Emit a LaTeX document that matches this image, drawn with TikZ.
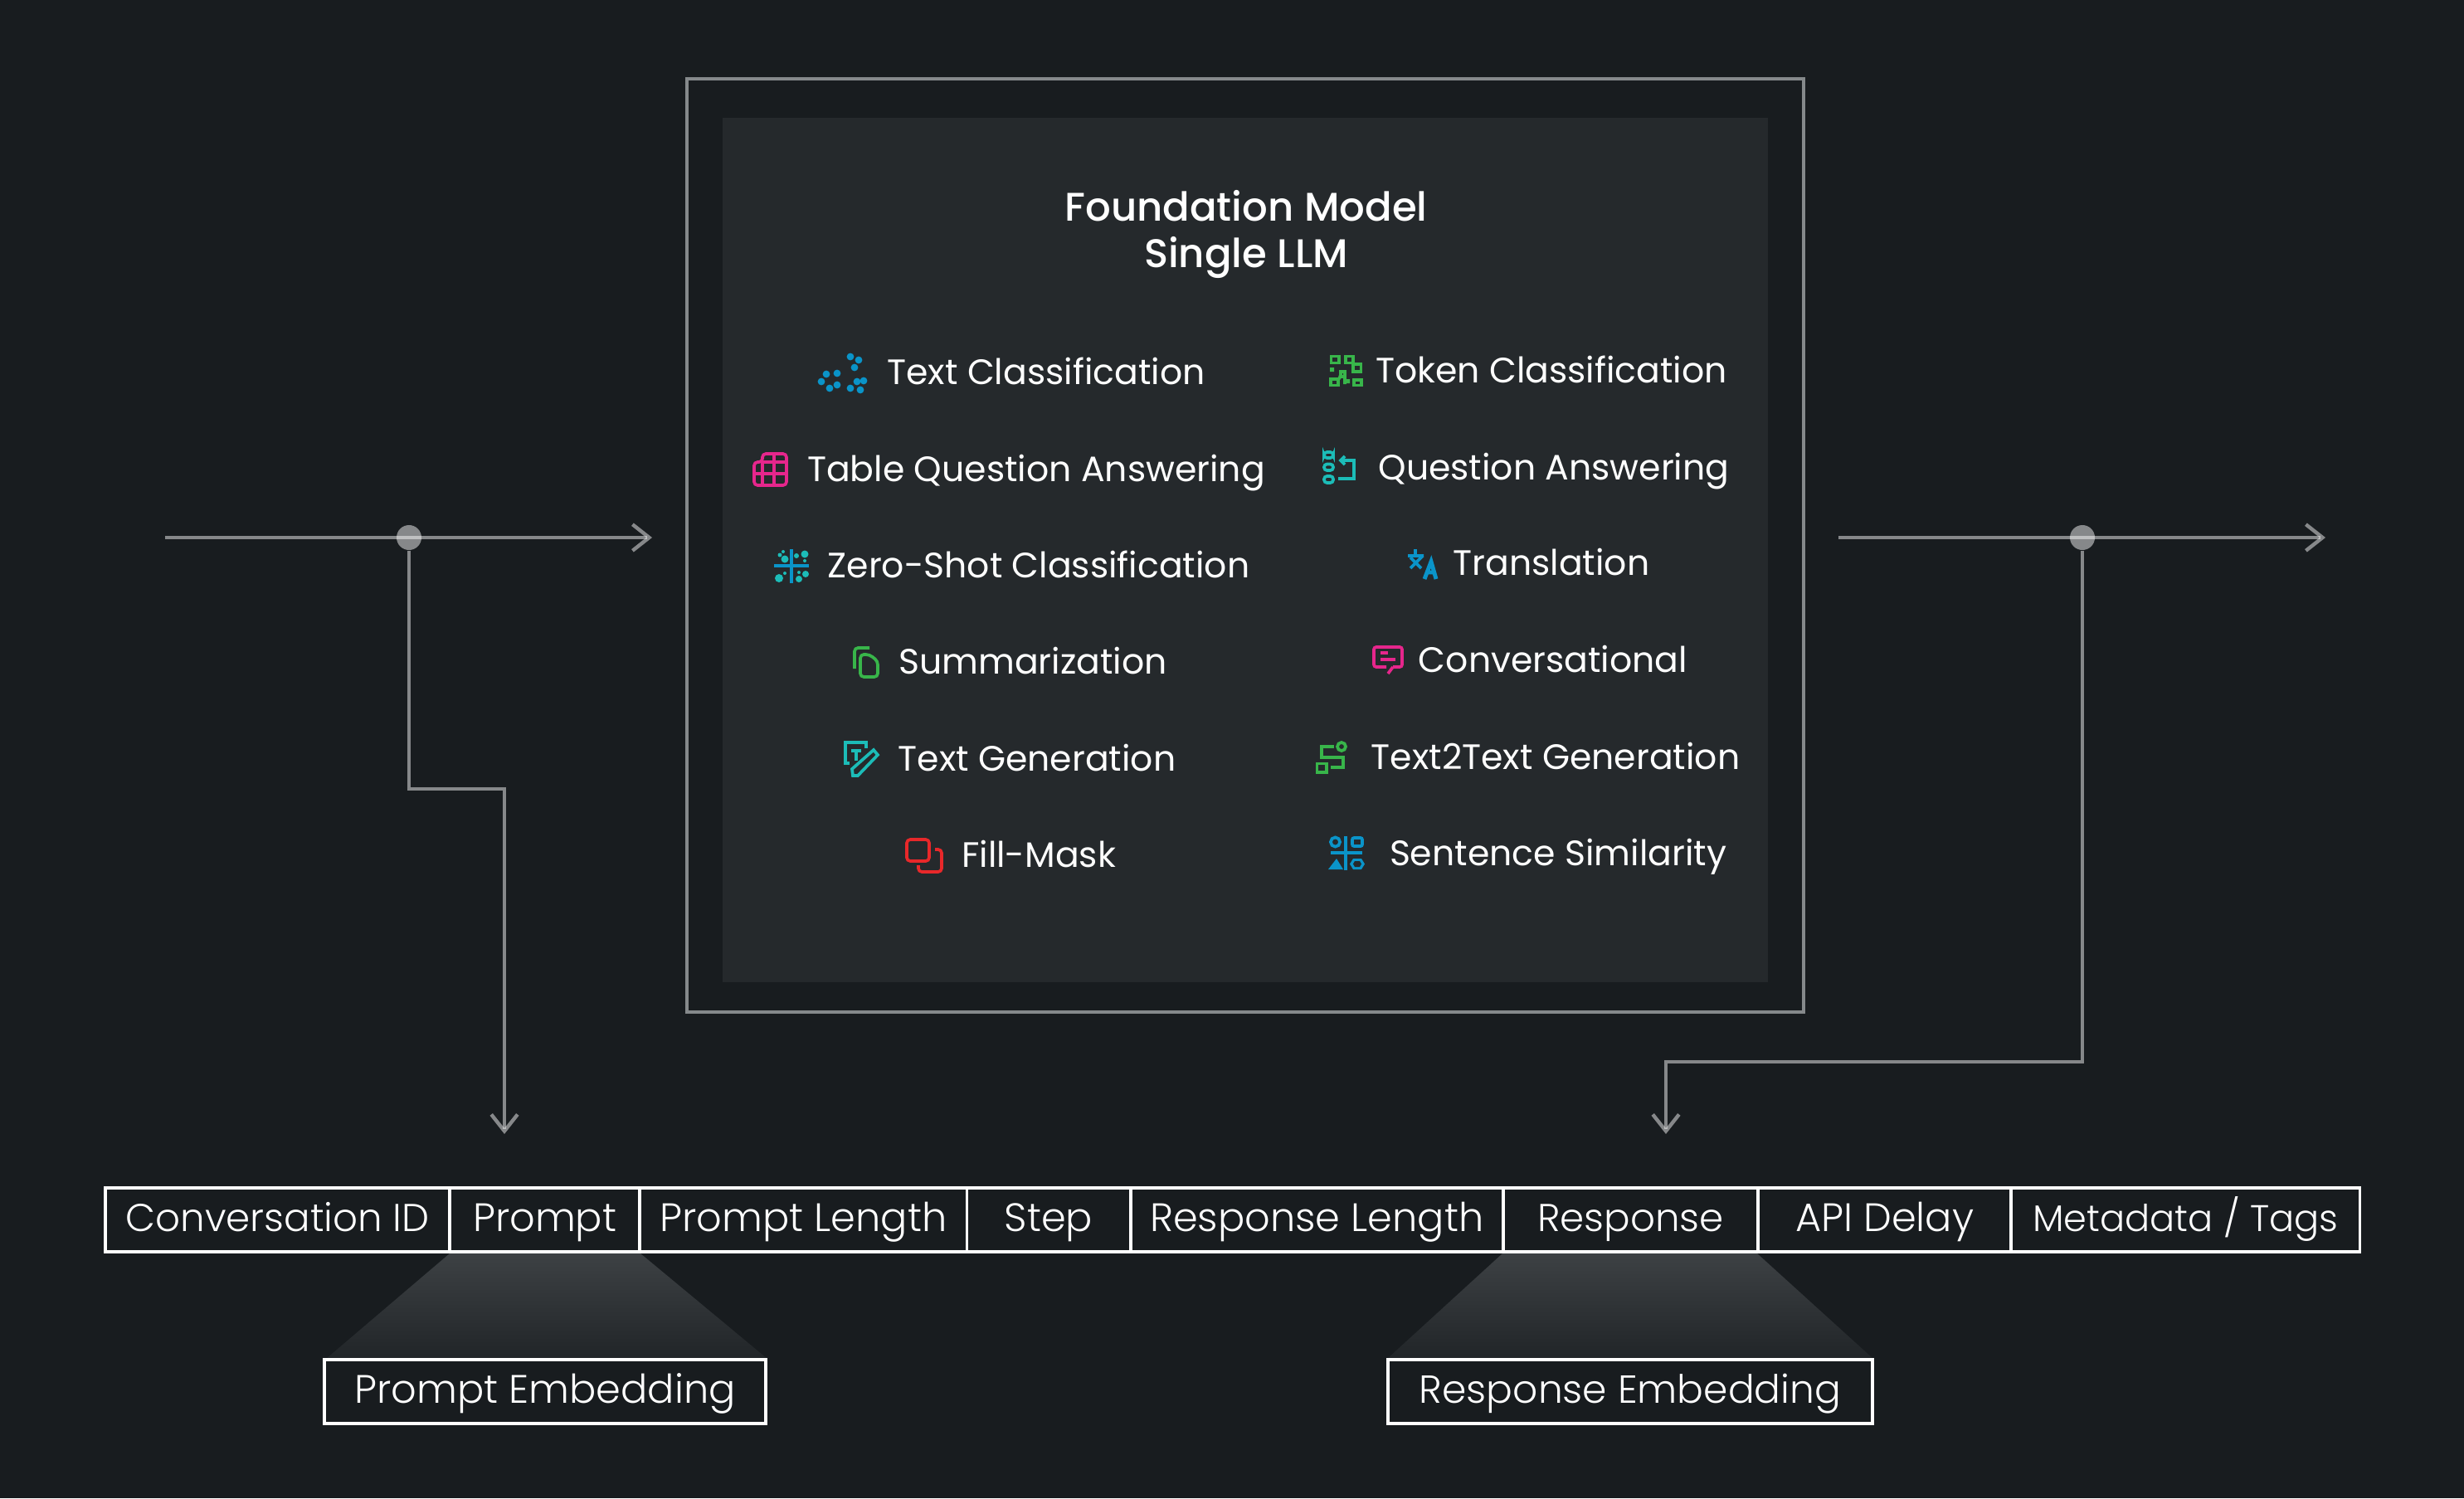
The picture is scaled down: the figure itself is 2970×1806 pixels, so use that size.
\documentclass[tikz,border=0pt]{standalone}
\usepackage{fontspec}
\setmainfont{Poppins}
\newfontfamily\cellfont{Poppins Light}
\newfontfamily\titlefont{Poppins Medium}
\usepackage{xcolor}
\usepackage{tikz}
\usetikzlibrary{positioning,arrows.meta}
\definecolor{pagedark}{HTML}{181C1F}
\definecolor{paneldark}{HTML}{25292C}
\definecolor{wiregrey}{HTML}{85898B}
\definecolor{fanlight}{HTML}{3D4144}
\definecolor{fandark}{HTML}{212528}
\definecolor{iconblue}{HTML}{0A94C9}
\definecolor{iconpink}{HTML}{E6268C}
\definecolor{iconteal}{HTML}{1CBCB8}
\definecolor{icongreen}{HTML}{38B54A}
\definecolor{iconred}{HTML}{E8282A}

\begin{document}
\begin{tikzpicture}[x=0.01cm, y=-0.01cm, node distance=0cm, every node/.style={font=\fontsize{12.1}{15}\selectfont, text=white}]
  \tikzstyle{cell}=[rectangle, draw=white, line width=1.1pt, outer sep=0pt, inner sep=0pt, minimum height=0.77cm, text height=0.34cm, text depth=0.06cm, align=center, font=\fontsize{13.6}{15}\selectfont\cellfont]
  \tikzstyle{wire}=[draw=white, draw opacity=0.48, line width=1.25pt, -{Straight Barb[length=5.7pt, width=9pt]}]
  \tikzstyle{junction}=[circle, fill=white, fill opacity=0.48, minimum size=0.3cm, inner sep=0pt]
  \tikzstyle{task}=[anchor=base, inner sep=0pt]
  \tikzstyle{ic}=[line width=1.05pt, line join=miter]
  \useasboundingbox (0,0) rectangle (2970,1806);
  \fill[pagedark] (0,0) rectangle (2970,1806);

  % model panel
  \node[rectangle, draw=wiregrey, line width=1.15pt, minimum width=13.46cm, minimum height=11.25cm, outer sep=0pt] (frame) at (1501,657.5) {};
  \node[rectangle, fill=paneldark, minimum width=12.6cm, minimum height=10.42cm, outer sep=0pt] (panel) at (1501,663) {};
  \node[task, font=\fontsize{13.7}{15}\selectfont\titlefont] (title1) at (1502,267) {Foundation Model};
  \node[task, font=\fontsize{13.7}{15}\selectfont\titlefont] (title2) at (1502,322) {Single LLM};

  % task names
  \node[task] (tc) at (1261,463.5) {Text Classification};
  \node[task] (tqa) at (1249,580.5) {Table Question Answering};
  \node[task] (zsc) at (1252,696.5) {Zero-Shot Classification};
  \node[task] (summ) at (1245,812.5) {Summarization};
  \node[task] (tgen) at (1250,929.5) {Text Generation};
  \node[task] (fill) at (1252,1045.5) {Fill-Mask};
  \node[task] (tok) at (1870,461.5) {Token Classification};
  \node[task] (qa) at (1873,578.5) {Question Answering};
  \node[task] (trans) at (1870,693.5) {Translation};
  \node[task] (conv) at (1872,810.5) {Conversational};
  \node[task] (t2t) at (1875,927.5) {Text2Text Generation};
  \node[task] (sim) at (1878,1043.5) {Sentence Similarity};

  % icons, left column
  \begin{scope}[shift={(986,426)}]
    \foreach \px/\py in {39/4,49/8,44/17,10/25,23/24,4/34,23/38,14/42,39/42,47/34,55/33,51/44}
      \fill[iconblue] (\px,\py) circle[radius=4.4];
  \end{scope}
  \begin{scope}[shift={(907,545)}, ic, draw=iconpink]
    \draw[rounded corners=1.2pt] (2,12) -- (12,12) -- (12,2) -- (41,2) -- (41,40) -- (2,40) -- cycle;
    \draw (2,26) -- (41,26) (12,12) -- (41,12) (12,12) -- (12,40) (26,2) -- (26,40);
  \end{scope}
  \begin{scope}[shift={(933,662)}]
    \draw[iconblue, ic] (21,0) -- (21,41) (0,20) -- (42,20);
    \foreach \px/\py/\pr in {7/7/2.5,13/12/4.5,11/3/2,27/8/3,37/6/4.5,37/14/2,6/35/5,13/29/2,30/36/4,38/30/4,30/28/2}
      \fill[iconteal] (\px,\py) circle[radius=\pr];
  \end{scope}
  \begin{scope}[shift={(1028,779)}, ic, draw=icongreen]
    \draw[rounded corners=1.2pt] (20,2) -- (2,2) -- (2,27);
    \draw[rounded corners=1.2pt] (9,10) -- (20,10) -- (30,18) -- (30,37) -- (9,37) -- cycle;
  \end{scope}
  \begin{scope}[shift={(1017,893)}, ic, draw=iconteal]
    \draw (7,27) -- (2,27) -- (2,2) -- (27,2) -- (27,9);
    \draw (9,12) -- (21,12) (15,12) -- (15,24);
    \draw (11,42) -- (10,34) -- (36,11) -- (41,17) -- (17,42) -- cycle;
  \end{scope}
  \begin{scope}[shift={(1091,1010)}, ic, draw=iconred]
    \draw[rounded corners=1.2pt] (2,2) rectangle (29,28);
    \draw[rounded corners=1.2pt] (36,14) -- (44,14) -- (44,41) -- (16,41) -- (16,33);
  \end{scope}

  % icons, right column
  \begin{scope}[shift={(1602,427)}, ic, draw=icongreen]
    \draw (2.5,2.5) rectangle (12,10.5) (20,2.5) rectangle (29,10.5) (29,12) rectangle (38.5,21)
      (2,30) rectangle (11,37.5) (30,31) rectangle (39,37.5) (14,21) rectangle (19,27);
    \draw (12,30) -- (14,25) (19,27) -- (19,36);
    \fill[icongreen] (1,16) rectangle (6,21) (20,30) rectangle (25,35);
  \end{scope}
  \begin{scope}[shift={(1594,543)}, ic, draw=iconteal]
    \draw[rounded corners=1pt] (2,2) rectangle (13,9) (2,16.5) rectangle (13,24) (2,31) rectangle (13,39);
    \draw (19,34) -- (38,34) -- (38,12) -- (22,12);
    \draw (27,7) -- (22,12) -- (27,17);
  \end{scope}
  \begin{scope}[shift={(1697,662)}, ic, draw=iconblue]
    \draw (0,8) -- (19,8) (9,0) -- (9,8) (18,8) -- (3,23) (3,10) -- (16,23);
    \draw[line width=1.4pt] (20,36) -- (28,15) -- (34,36) (23,28) -- (32,28);
  \end{scope}
  \begin{scope}[shift={(1654,778)}, ic, draw=iconpink]
    \draw[rounded corners=0.8pt] (17,26) -- (2,26) -- (2,2) -- (36,2) -- (36,26) -- (25,26);
    \draw (25,26) -- (19,34);
    \draw (10,9) -- (19,9) (10,17) -- (28,17);
  \end{scope}
  \begin{scope}[shift={(1585,893)}, ic, draw=icongreen]
    \draw (23,7) -- (8,7) -- (8,20) -- (34,20) -- (34,32) -- (19,32);
    \draw (2.5,27.5) rectangle (14,38);
    \draw (32,7) circle[radius=5];
  \end{scope}
  \begin{scope}[shift={(1601,1008)}, ic, draw=iconblue]
    \draw (8.5,7) circle[radius=5.6];
    \draw[rounded corners=0.6pt] (29,2) rectangle (41,12);
    \draw (3,20) -- (41,20) (21,0) -- (21,41);
    \fill[iconblue] (0,40) -- (10,27) -- (18,40) -- cycle;
    \fill[iconblue] (26,33.5) -- (30,27) -- (40,27) -- (44,33.5) -- (40,40) -- (30,40) -- cycle;
    \fill[paneldark] (30,33.5) -- (32,30) -- (38,30) -- (40,33.5) -- (38,37) -- (32,37) -- cycle;
  \end{scope}

  % record
  \path[top color=fanlight, bottom color=fandark] (542,1511) -- (772,1511) -- (925,1638) -- (393,1638) -- cycle;
  \path[top color=fanlight, bottom color=fandark] (1811,1511) -- (2118,1511) -- (2258,1638) -- (1672,1638) -- cycle;
  \node[cell, minimum width=4.15cm, font=\fontsize{13.3}{15}\selectfont\cellfont] (cid) at (334.5,1470.5) {Conversation ID};
  \node[cell, minimum width=2.29cm, right=of cid] (prompt) {Prompt};
  \node[cell, minimum width=3.94cm, right=of prompt] (plen) {Prompt Length};
  \node[cell, minimum width=1.97cm, right=of plen] (stepcell) {Step};
  \node[cell, minimum width=4.49cm, right=of stepcell] (rlen) {Response Length};
  \node[cell, minimum width=3.07cm, right=of rlen, font=\fontsize{13.3}{15}\selectfont\cellfont] (resp) {Response};
  \node[cell, minimum width=3.05cm, right=of resp] (delay) {API Delay};
  \node[cell, minimum width=4.20cm, right=of delay, font=\fontsize{12.7}{15}\selectfont\cellfont] (meta) {Metadata / Tags};
  \node[cell, minimum width=5.325cm] (pemb) at (657,1677.5) {Prompt Embedding};
  \node[cell, minimum width=5.84cm, font=\fontsize{13.4}{15}\selectfont\cellfont] (remb) at (1965,1677.5) {Response Embedding};

  % connectors
  \coordinate (inA) at (199,648);
  \coordinate (inB) at (786,648);
  \coordinate (outA) at (2216,648);
  \coordinate (outB) at (2803,648);
  \coordinate (pdrop) at (608,1367);
  \coordinate (rdrop) at (2008,1367);
  \node[junction] (jin) at (493,648) {};
  \node[junction] (jout) at (2510,648) {};
  \draw[wire] (inA) -- (inB);
  \draw[wire] (outA) -- (outB);
  \draw[wire] (jin) |- (608,951) -- (pdrop);
  \draw[wire] (jout) |- (2008,1280) -- (rdrop);
\end{tikzpicture}
\end{document}
